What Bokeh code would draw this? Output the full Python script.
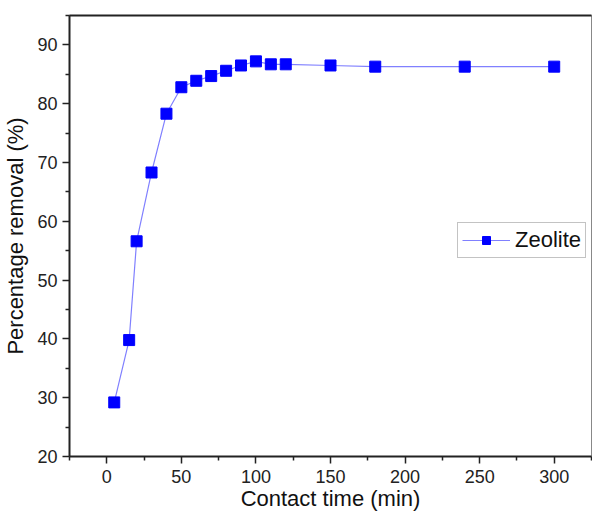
from bokeh.plotting import figure
from bokeh.models import Range1d, LinearAxis, FixedTicker, Legend, LegendItem
from bokeh.embed import file_html
from bokeh.resources import INLINE

contact_time = [5, 15, 20, 30, 40, 50, 60, 70, 80, 90, 100, 110, 120, 150, 180, 240, 300]
removal = [29.2, 39.8, 56.6, 68.3, 78.3, 82.8, 83.9, 84.7, 85.6, 86.5, 87.2, 86.7, 86.7, 86.5, 86.3, 86.3, 86.3]
series_name = "Zeolite"
x_title = "Contact time (min)"
y_title = "Percentage removal (%)"
x_ticks = [0, 50, 100, 150, 200, 250, 300]
y_ticks = [20, 30, 40, 50, 60, 70, 80, 90]

FONT = "Liberation Sans"

p = figure(width=592, height=513, output_backend="svg", toolbar_location=None,
           x_range=Range1d(-25, 325), y_range=Range1d(20, 95),
           min_border_left=64, min_border_right=1, min_border_top=15, min_border_bottom=57)

p.xgrid.visible = False
p.ygrid.visible = False
p.outline_line_color = "#888888"
p.outline_line_width = 1
p.background_fill_color = "white"
p.border_fill_color = "white"

line = p.line(contact_time, removal, line_color="#8080ff", line_width=1.2)
pts = p.scatter(contact_time, removal, marker="square", size=11,
                fill_color="#0000ff", line_color="#0000ff")

for ax in (p.xaxis[0], p.yaxis[0]):
    ax.axis_line_width = 2
    ax.axis_line_color = "#222222"
    ax.major_tick_line_color = "#222222"
    ax.minor_tick_line_color = "#222222"
    ax.major_tick_line_width = 1.5
    ax.minor_tick_line_width = 1.5
    ax.major_tick_out = 7
    ax.major_tick_in = 0
    ax.minor_tick_out = 4
    ax.minor_tick_in = 0
    ax.major_label_text_font = FONT
    ax.major_label_text_font_size = "18px"
    ax.major_label_text_color = "#222222"
    ax.axis_label_text_font = FONT
    ax.axis_label_text_font_size = "22px"
    ax.axis_label_text_font_style = "normal"
    ax.axis_label_text_color = "#111111"

p.xaxis[0].ticker = FixedTicker(ticks=x_ticks, minor_ticks=[t + 25 for t in [-50] + x_ticks])
p.yaxis[0].ticker = FixedTicker(ticks=y_ticks, minor_ticks=[t + 5 for t in y_ticks])
p.xaxis[0].axis_label = x_title
p.yaxis[0].axis_label = y_title
p.xaxis[0].major_label_standoff = 6
p.xaxis[0].axis_label_standoff = 0
p.yaxis[0].major_label_standoff = 5
p.yaxis[0].axis_label_standoff = 6

top = LinearAxis(ticker=FixedTicker(ticks=[]), major_label_text_font_size="0px",
                 axis_line_width=2, axis_line_color="#222222",
                 major_tick_line_color=None, minor_tick_line_color=None)
p.add_layout(top, "above")

legend = Legend(items=[LegendItem(label=series_name, renderers=[line, pts])],
                location=(388, 198))
legend.label_text_font = FONT
legend.label_text_font_size = "22px"
legend.label_text_color = "#111111"
legend.border_line_color = "#888888"
legend.border_line_width = 1
legend.glyph_width = 48
legend.glyph_height = 20
legend.padding = 4
legend.margin = 0
legend.label_standoff = 5
legend.background_fill_alpha = 1
p.add_layout(legend, "center")

open("out.html", "w").write(file_html(p, INLINE))
